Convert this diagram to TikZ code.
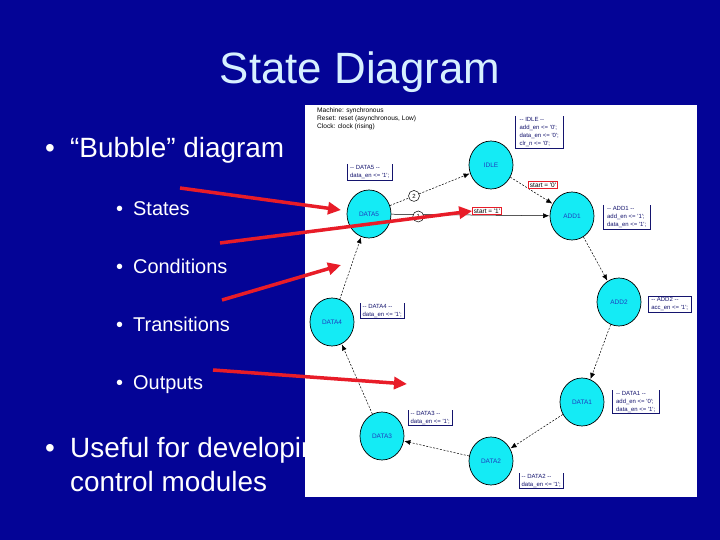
\documentclass[tikz,border=0pt]{standalone}
\usepackage{fontspec}
\setmainfont{Liberation Sans}
\newfontfamily\smallf{Liberation Sans}[Ligatures=TeXOff]
\usetikzlibrary{arrows.meta,shapes.geometric}
\definecolor{bg}{RGB}{4,4,150}
\definecolor{titlec}{RGB}{215,240,255}
\definecolor{cyanc}{RGB}{20,235,245}
\definecolor{stblue}{RGB}{30,60,190}
\definecolor{redc}{RGB}{232,28,40}
\definecolor{navyb}{RGB}{20,20,110}
\tikzset{
  bigtxt/.style={anchor=base west, text=white, inner sep=0, font=\fontsize{28}{32}\selectfont},
  subtxt/.style={anchor=base west, text=white, inner sep=0, font=\fontsize{20}{24}\selectfont},
  stat/.style={ellipse, draw=black, line width=0.7bp, fill=cyanc, minimum width=44bp, minimum height=48bp, inner sep=0, font=\smallf\fontsize{6.5}{7}\selectfont, text=stblue},
  trans/.style={draw=black, line width=0.5bp, dash pattern=on 2bp off 1.5bp, -{Latex[length=6bp,width=5bp]}, shorten >=0.5bp},
  numc/.style={circle, draw=black, dash pattern=on 1.5bp off 1bp, fill=white, inner sep=0, minimum size=11bp, font=\smallf\fontsize{6}{7}\selectfont, solid},
  cond/.style={draw=redc, line width=0.6bp, inner xsep=1.5bp, inner ysep=1bp, font=\smallf\fontsize{6.5}{7}\selectfont, text=black},
  outb/.style={anchor=north west, align=left, inner xsep=1.5bp, inner ysep=1bp, font=\smallf\fontsize{6}{8}\selectfont, text=navyb},
  obord/.style={draw=navyb, line width=0.7bp},
  redarr/.style={draw=redc, line width=3.5bp, -{Triangle[length=13bp,width=12bp]}}
}
\begin{document}
\begin{tikzpicture}[x=1bp,y=-1bp]
\useasboundingbox (0,0) rectangle (720,540);
\fill[bg] (0,0) rectangle (720,540);
% title
\node[anchor=base, text=titlec, inner sep=0, font=\fontsize{44}{48}\selectfont] (title) at (360,84) {State Diagram};
% bullets
\node[bigtxt] (bu1) at (45,158) {\textbullet};
\node[bigtxt] (t1) at (70,158) {“Bubble” diagram};
\node[subtxt] (bu2) at (116,216) {\textbullet};
\node[subtxt] (t2) at (133,216) {States};
\node[subtxt] (bu3) at (116,274) {\textbullet};
\node[subtxt] (t3) at (133,274) {Conditions};
\node[subtxt] (bu4) at (116,331) {\textbullet};
\node[subtxt] (t4) at (133,331) {Transitions};
\node[subtxt] (bu5) at (116,389) {\textbullet};
\node[subtxt] (t5) at (133,389) {Outputs};
\node[bigtxt] (bu6) at (45,457) {\textbullet};
\node[bigtxt] (t6) at (70,457) {Useful for developing};
\node[bigtxt] (t7) at (70,491) {control modules};
% panel
\fill[white] (305,105) rectangle (697,497);
\node[anchor=north west, align=left, inner sep=0, font=\smallf\fontsize{6.6}{8}\selectfont, text=black] (hdr) at (317,107.5) {Machine: synchronous\\Reset: reset (asynchronous, Low)\\Clock: clock (rising)};
% states
\node[stat] (idle) at (491,165) {IDLE};
\node[stat] (add1) at (572,216) {ADD1};
\node[stat] (add2) at (619,302) {ADD2};
\node[stat] (d1) at (582,402) {DATA1};
\node[stat] (d2) at (491,461) {DATA2};
\node[stat] (d3) at (382,436) {DATA3};
\node[stat] (d4) at (332,322) {DATA4};
\node[stat] (d5) at (369,214) {DATA5};
% transitions
\draw[trans] (d5) -- node[numc, pos=0.3] (n2) {2} (idle);
\draw[trans, solid] (d5) -- node[numc, pos=0.17, yshift=-2bp] (n1) {1} (add1);
\draw[trans] (idle) -- (add1);
\draw[trans] (add1) -- (add2);
\draw[trans] (add2) -- (d1);
\draw[trans] (d1) -- (d2);
\draw[trans] (d2) -- (d3);
\draw[trans] (d3) -- (d4);
\draw[trans] (d4) -- (d5);
% conditions
\node[cond] (c0) at (543,185) {start = '0'};
\node[cond] (c1) at (487,211) {start = '1'};
% outputs
\node[outb, minimum width=48bp, minimum height=32bp] (oidle) at (515,116) {-- IDLE --\\add\_en <= '0';\\data\_en <= '0';\\clr\_n <= '0';};
\node[outb, minimum width=47bp, minimum height=24bp] (oadd1) at (603,205) {-- ADD1 --\\add\_en <= '1';\\data\_en <= '1';};
\node[outb, minimum width=43bp, minimum height=16bp] (oadd2) at (648,296) {-- ADD2 --\\acc\_en <= '1';};
\node[outb, minimum width=47bp, minimum height=23bp] (od1) at (612,390) {-- DATA1 --\\add\_en <= '0';\\data\_en <= '1';};
\node[outb, minimum width=44bp, minimum height=15bp] (od2) at (519,473) {-- DATA2 --\\data\_en <= '1';};
\node[outb, minimum width=44bp, minimum height=15bp] (od3) at (408,410) {-- DATA3 --\\data\_en <= '1';};
\node[outb, minimum width=44bp, minimum height=15bp] (od4) at (360,303) {-- DATA4 --\\data\_en <= '1';};
\node[outb, minimum width=45bp, minimum height=16bp] (od5) at (347,164) {-- DATA5 --\\data\_en <= '1';};
\foreach \b in {oidle,oadd1,od1,od2,od3,od4,od5}{
  \draw[obord] (\b.north west) -- (\b.south west) -- (\b.south east) -- (\b.north east);
}
\draw[obord] (oadd2.north west) rectangle (oadd2.south east);
% red pointer arrows
\coordinate (s1) at (180,188);
\coordinate (e1) at (341,210);
\coordinate (s2) at (220,243);
\coordinate (s3) at (222,300);
\coordinate (e3) at (341,265);
\coordinate (s4) at (213,370);
\coordinate (e4) at (407,384);
\draw[redarr] (s1) -- (e1);
\draw[redarr] (s2) -- (c1.west);
\draw[redarr] (s3) -- (e3);
\draw[redarr] (s4) -- (e4);
\end{tikzpicture}
\end{document}
